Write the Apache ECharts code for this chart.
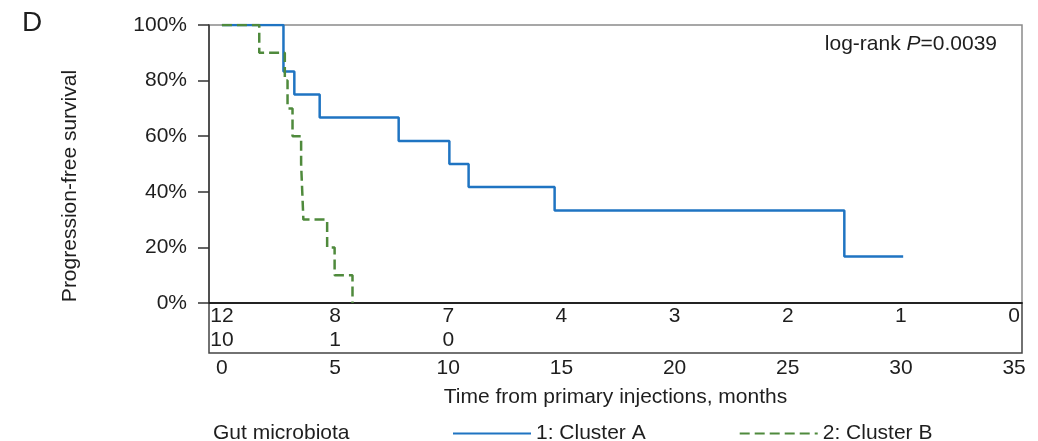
<!DOCTYPE html>
<html>
<head>
<meta charset="utf-8">
<script src="https://cdn.jsdelivr.net/npm/echarts@6/dist/echarts.min.js"></script>
<style>
html, body { margin: 0; padding: 0; background: #fff; }
#main { width: 1038px; height: 441px; }
</style>
</head>
<body>
<div id="main"></div>
<script>
// Kaplan-Meier steps (months, survival fraction)
var timesA = [0, 2.72, 3.2, 4.32, 7.81, 10.05, 10.9, 14.7, 27.5, 30.1];
var survA = [1, 0.833, 0.75, 0.667, 0.583, 0.5, 0.417, 0.333, 0.167, 0.167];
var timesB = [0, 1.65, 2.78, 2.9, 3.12, 3.5, 3.55, 3.6, 4.65, 4.98, 5.77];
var survB = [1, 0.9, 0.8, 0.7, 0.6, 0.5, 0.4, 0.3, 0.2, 0.1, 0];

// tick labels and number at risk
var months = [0, 5, 10, 15, 20, 25, 30, 35];
var riskA = [12, 8, 7, 4, 3, 2, 1, 0];
var riskB = [10, 1, 0];
var yTicks = [0, 0.2, 0.4, 0.6, 0.8, 1];

var font = 'Liberation Sans, Arial, sans-serif';
var txt = '#1e1e1e';

function pairs(t, s) {
    return t.map(function (v, i) { return [v, s[i]]; });
}

var chart = echarts.init(document.getElementById('main'), null, {renderer: 'canvas'});

var xMin = -0.57, xMax = 35.35;

var option = {
    animation: false,
    backgroundColor: '#fff',
    textStyle: {fontFamily: font, color: txt},
    title: [
        {text: 'D', left: 17, top: 4, textStyle: {fontSize: 28, fontWeight: 'normal', color: txt, fontFamily: font}},
        {
            text: '{a|log-rank }{b|P}{a|=0.0039}', right: 36, top: 29,
            textStyle: {
                fontWeight: 'normal',
                rich: {
                    a: {fontSize: 21, color: txt, fontFamily: font, fontWeight: 'normal'},
                    b: {fontSize: 21, color: txt, fontFamily: font, fontWeight: 'normal', fontStyle: 'italic'}
                }
            }
        },
        {text: 'Gut microbiota', left: 208, top: 418, textStyle: {fontSize: 21, fontWeight: 'normal', color: txt, fontFamily: font}}
    ],
    legend: {
        data: ['1: Cluster A', '2: Cluster B'],
        left: 447, top: 418,
        itemWidth: 78, itemHeight: 14, itemGap: 93,
        itemStyle: {opacity: 0},
        textStyle: {fontSize: 21, color: txt, fontFamily: font}
    },
    grid: [
        {left: 209, right: 16, top: 25, height: 278, show: true, borderColor: '#8a8a8a', borderWidth: 1.5},
        {left: 209, right: 16, top: 303, height: 50, show: true, borderColor: '#444', borderWidth: 1.5}
    ],
    xAxis: [
        {
            type: 'value', gridIndex: 0, min: xMin, max: xMax,
            name: 'Time from primary injections, months',
            nameLocation: 'middle', nameGap: 84,
            nameTextStyle: {fontSize: 21, color: txt, fontFamily: font},
            axisLine: {onZero: false, lineStyle: {color: '#111', width: 1.5}},
            axisTick: {show: false},
            splitLine: {show: false},
            axisLabel: {customValues: months, margin: 55, fontSize: 21, color: txt, fontFamily: font}
        },
        {
            type: 'value', gridIndex: 1, position: 'top', min: xMin, max: xMax,
            axisLine: {show: false, onZero: false},
            axisTick: {show: false},
            splitLine: {show: false},
            axisLabel: {
                inside: true, margin: 3, customValues: months,
                fontSize: 21, color: txt, fontFamily: font,
                formatter: function (v) { return String(riskA[months.indexOf(v)]); }
            }
        },
        {
            type: 'value', gridIndex: 1, position: 'bottom', min: xMin, max: xMax,
            axisLine: {show: false, onZero: false},
            axisTick: {show: false},
            splitLine: {show: false},
            axisLabel: {
                inside: true, margin: 2, customValues: months.slice(0, riskB.length),
                fontSize: 21, color: txt, fontFamily: font,
                formatter: function (v) { return String(riskB[months.indexOf(v)]); }
            }
        }
    ],
    yAxis: [
        {
            type: 'value', gridIndex: 0, min: 0, max: 1, interval: 0.2,
            name: 'Progression-free survival',
            nameLocation: 'middle', nameRotate: 90, nameGap: 128,
            nameTextStyle: {fontSize: 21, color: txt, fontFamily: font, padding: [0, 44, 0, 0]},
            axisLine: {show: true, onZero: false, lineStyle: {color: '#333', width: 1.5}},
            axisTick: {show: true, length: 11, lineStyle: {color: '#333', width: 1.5}},
            splitLine: {show: false},
            axisLabel: {
                margin: 22, fontSize: 21, color: txt, fontFamily: font,
                customValues: yTicks,
                formatter: function (v) { return Math.round(v * 100) + '%'; }
            }
        },
        {type: 'value', gridIndex: 1, show: false}
    ],
    series: [
        {
            name: '1: Cluster A', type: 'line', step: 'end',
            xAxisIndex: 0, yAxisIndex: 0,
            data: pairs(timesA, survA),
            symbol: 'none', z: 2,
            color: '#1f74c2',
            lineStyle: {color: '#1f74c2', width: 2.5}
        },
        {
            name: '2: Cluster B', type: 'line', step: 'end',
            xAxisIndex: 0, yAxisIndex: 0,
            data: pairs(timesB, survB),
            symbol: 'none', z: 3,
            color: '#4f8a3c',
            lineStyle: {color: '#4f8a3c', width: 2.5, type: [10, 5]}
        }
    ]
};
chart.setOption(option);
</script>
</body>
</html>
